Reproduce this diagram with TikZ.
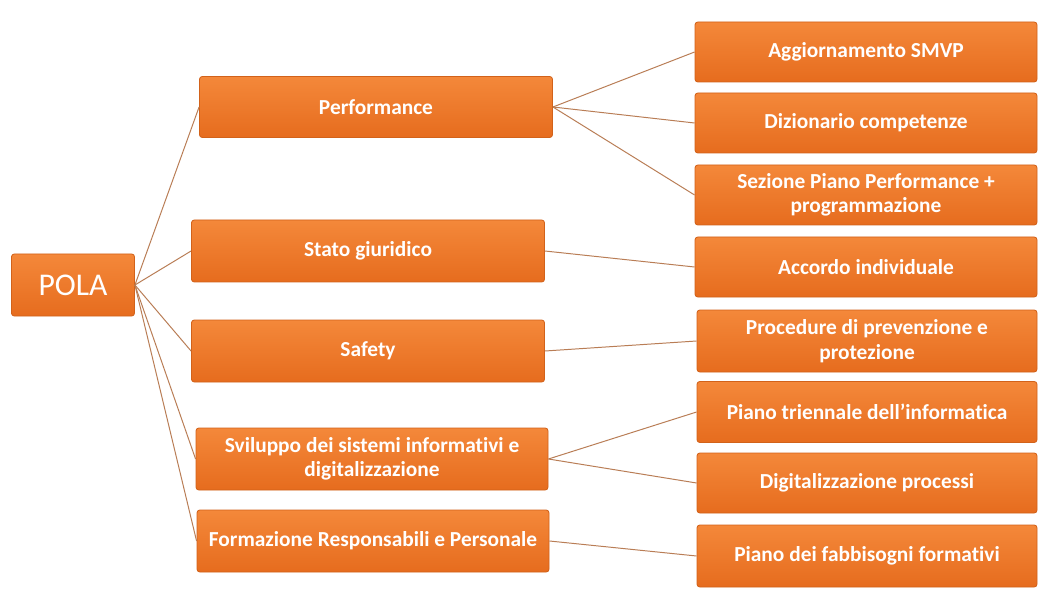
\documentclass[tikz,border=0pt]{standalone}
\usepackage{fontspec}
\setmainfont[Ligatures=NoCommon]{Carlito}
\definecolor{boxtop}{RGB}{244,136,58}
\definecolor{boxbot}{RGB}{230,108,30}
\definecolor{boxedge}{RGB}{210,98,26}
\definecolor{linkcol}{RGB}{185,125,85}
\tikzset{
    box/.style={draw=boxedge,line width=0.6pt,rounded corners=2pt,
        top color=boxtop,bottom color=boxbot,text=white,font=\bfseries\fontsize{15.2}{17.5}\selectfont,
        align=center,inner sep=0pt},
    link/.style={draw=linkcol,line width=0.7pt}
}
\begin{document}
\begin{tikzpicture}[x=0.025cm,y=-0.025cm]
        \useasboundingbox[fill=white](0,0) rectangle (1038,590);
        \node[box,minimum width=123*0.025cm,minimum height=62*0.025cm,
         font=\fontsize{22.5}{24}\selectfont](pola) at (73,285){POLA};

        \node[box,minimum width=353*0.025cm,minimum height=61*0.025cm](perf) at (376,107){Performance};
        \node[box,minimum width=353*0.025cm,minimum height=62*0.025cm](stato) at (368,251){Stato giuridico};
        \node[box,minimum width=353*0.025cm,minimum height=62*0.025cm](safety) at (368,351){Safety};
        \node[box,minimum width=352*0.025cm,minimum height=62*0.025cm](svil) at (372,459){Sviluppo dei sistemi informativi e\\digitalizzazione};
        \node[box,minimum width=352*0.025cm,minimum height=62*0.025cm](form) at (373,541){Formazione Responsabili e Personale};

        \node[box,minimum width=342*0.025cm,minimum height=60*0.025cm](aggi) at (866,52){Aggiornamento SMVP};
        \node[box,minimum width=342*0.025cm,minimum height=60*0.025cm](dizi) at (866,123){Dizionario competenze};
        \node[box,minimum width=342*0.025cm,minimum height=60*0.025cm](sezi) at (866,195){Sezione Piano Performance +\\programmazione};
        \node[box,minimum width=342*0.025cm,minimum height=60*0.025cm](acco) at (866,267){Accordo individuale};
        \node[box,minimum width=340*0.025cm,minimum height=62*0.025cm](proc) at (867,341){Procedure di prevenzione e\\protezione};
        \node[box,minimum width=340*0.025cm,minimum height=61*0.025cm](tri) at (867,412){Piano triennale dell’informatica};
        \node[box,minimum width=340*0.025cm,minimum height=60*0.025cm](digi) at (867,483){Digitalizzazione processi};
        \node[box,minimum width=340*0.025cm,minimum height=62*0.025cm](fabb) at (867,556){Piano dei fabbisogni formativi};

        \foreach \n in {perf,stato,safety,svil,form}
            \draw[link](pola.east) -- (\n.west);
        \foreach \n in {aggi,dizi,sezi}
            \draw[link](perf.east) -- (\n.west);
        \draw[link](stato.east) -- (acco.west);
        \draw[link](safety.east) -- (proc.west);
        \draw[link](svil.east) -- (tri.west);
        \draw[link](svil.east) -- (digi.west);
        \draw[link](form.east) -- (fabb.west);
    \end{tikzpicture}
\end{document}
